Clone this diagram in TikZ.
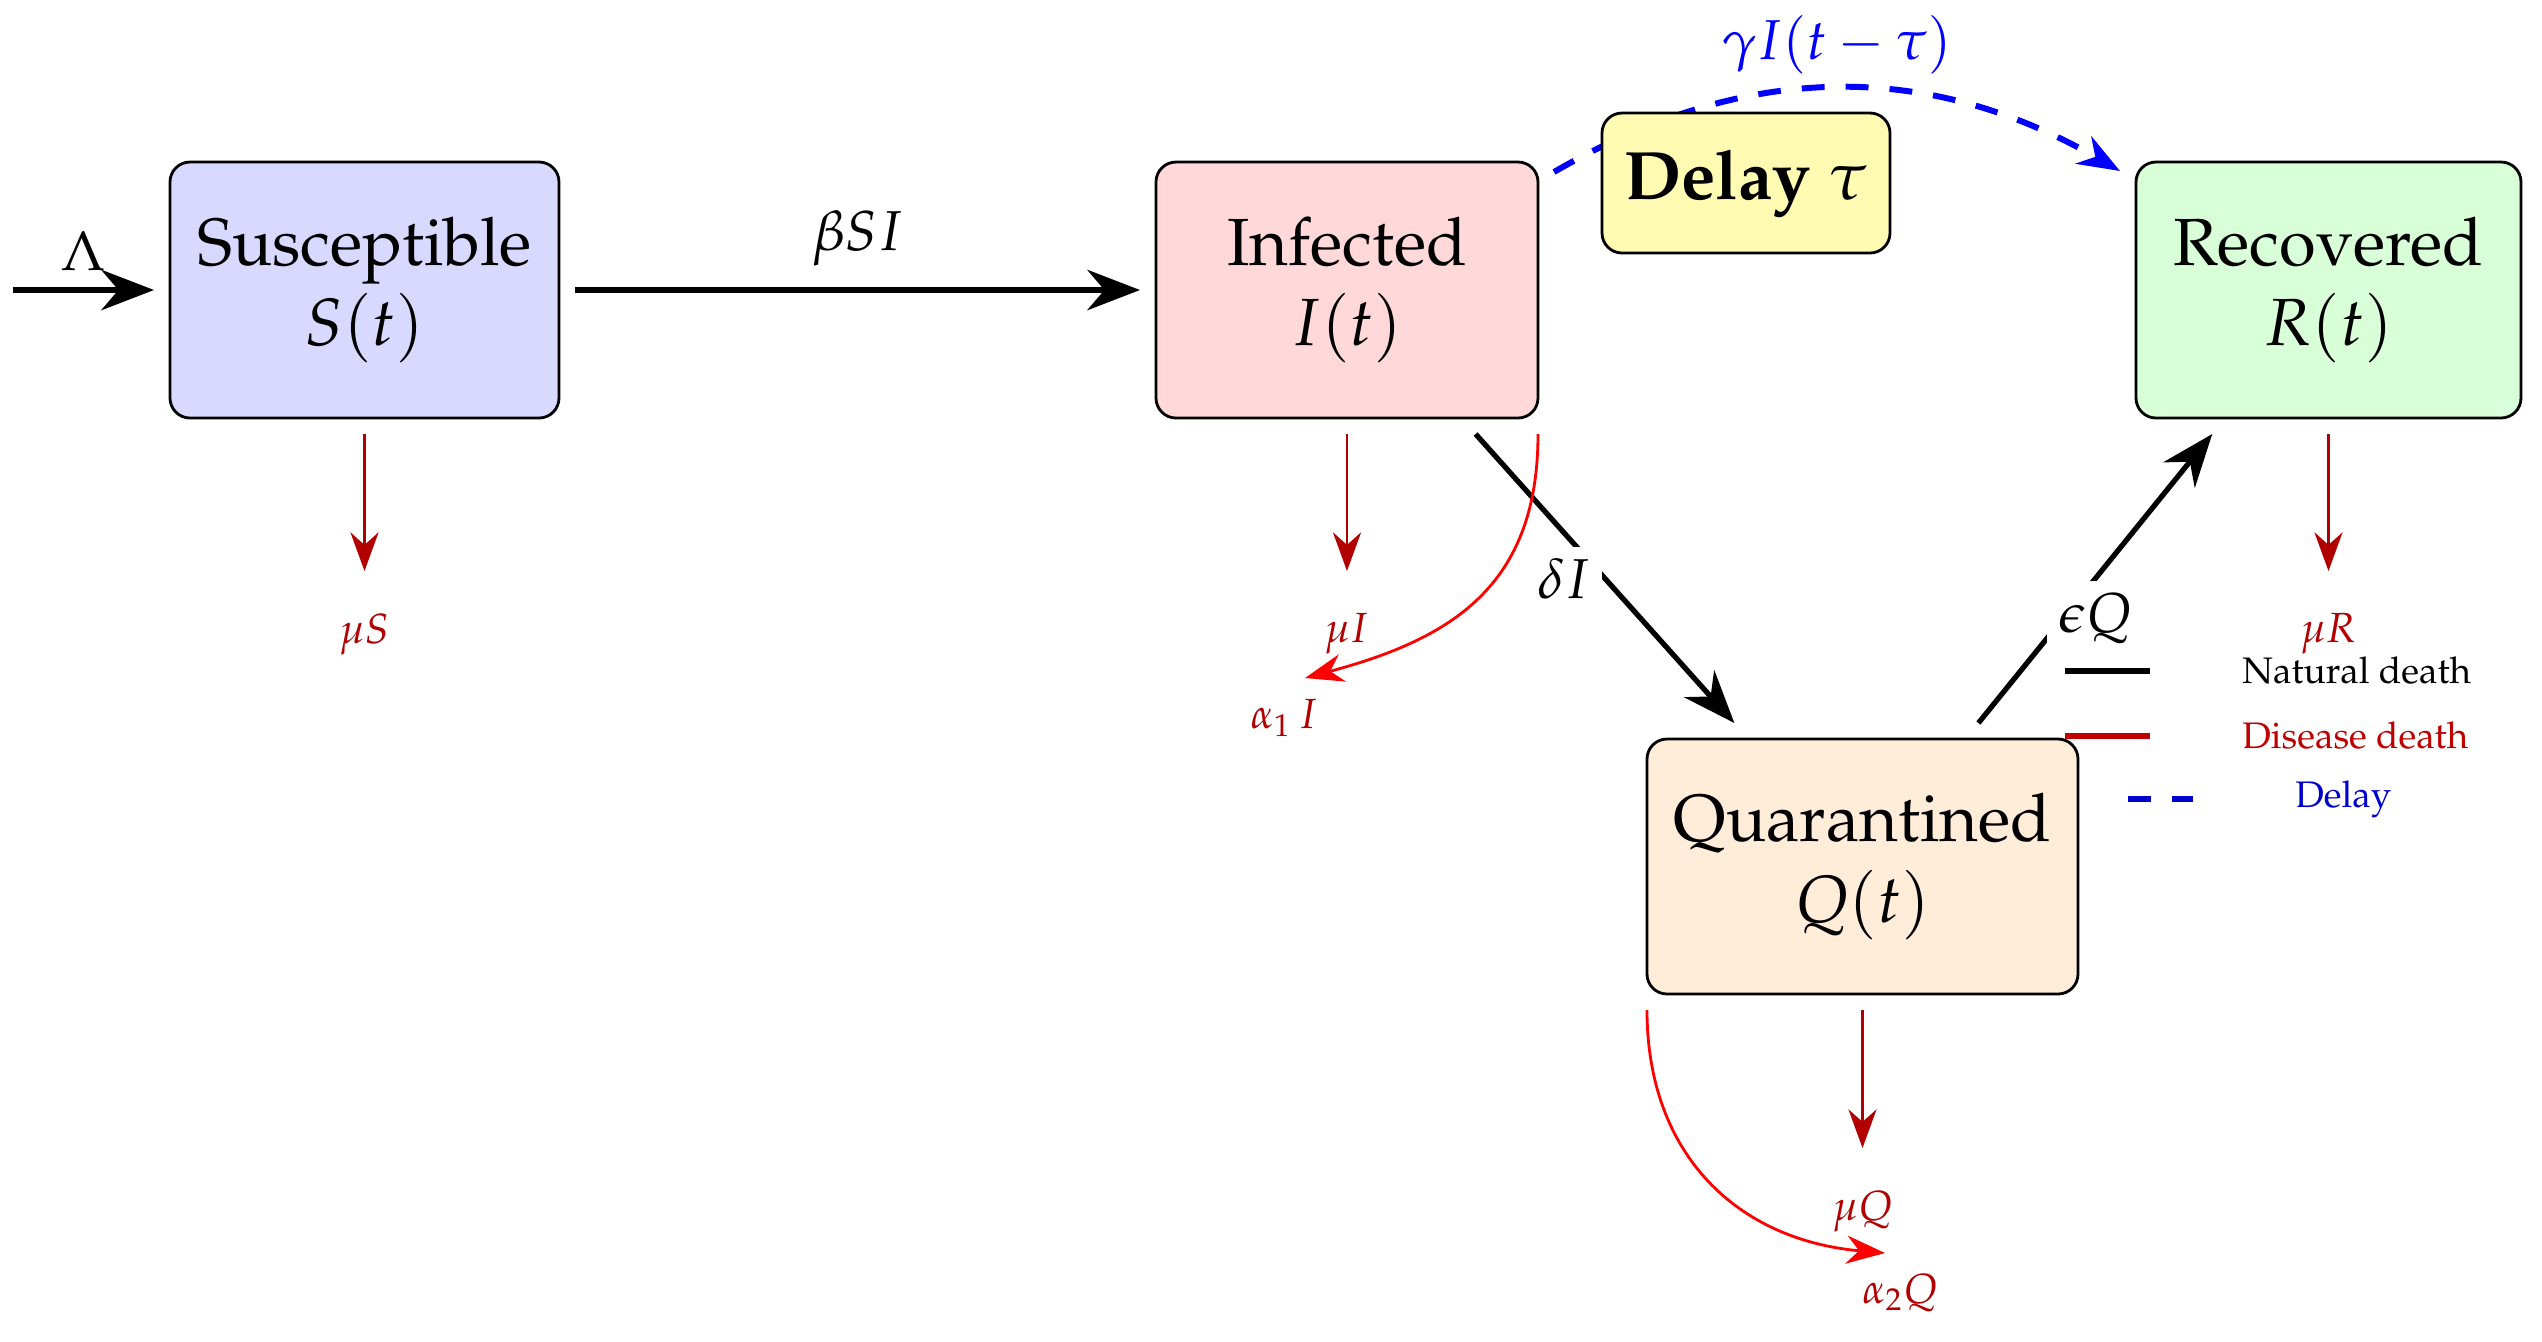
\documentclass[tikz,border=0pt]{standalone}
\usepackage[T1]{fontenc}
\usepackage{mathpazo}
\usepackage{tikz}
\usetikzlibrary{positioning, arrows.meta, calc}

\tikzset{
    compartment/.style={draw, line width=0.8pt, rounded corners=0.2cm, align=center,
        outer sep=0.16cm, minimum height=2.56cm, font=\fontsize{19}{23}\selectfont},
    flow/.style={-{Stealth[length=15pt, width=11.5pt]}, line width=1.5pt},
    natdeath/.style={-{Stealth[length=11pt, width=8pt]}, line width=0.7pt, red!70!black},
    disdeath/.style={-{Stealth[length=11pt, width=8pt]}, line width=0.8pt, red},
    delayflow/.style={-{Stealth[length=12pt, width=9pt]}, line width=1.7pt, blue,
        dash pattern=on 6.5pt off 6pt},
    rate/.style={font=\fontsize{16}{19}\selectfont},
    lossrate/.style={font=\fontsize{12}{14}\selectfont, text=red!70!black},
    legtext/.style={font=\fontsize{10.5}{12.5}\selectfont},
}

\begin{document}
\begin{tikzpicture}
    \useasboundingbox (0,0) rectangle (25.42,-13.41);
    % Compartments
    \node[compartment, fill=blue!15, minimum width=3.89cm] (S) at (3.645,-2.90) {Susceptible\\$S(t)$};
    \node[compartment, fill=red!15, minimum width=3.82cm] (I) at (13.47,-2.90) {Infected\\$I(t)$};
    \node[compartment, fill=green!15, minimum width=3.85cm] (R) at (23.285,-2.90) {Recovered\\$R(t)$};
    \node[compartment, fill=orange!15, minimum width=4.31cm, minimum height=2.55cm] (Q) at (18.625,-8.665) {Quarantined\\$Q(t)$};
    % Recruitment and transitions
    \coordinate (src) at (0.13,-2.90);
    \draw [flow] (src) -- (S.west) node[midway, above=0.5mm, rate] (Lam) {$\Lambda$};
    \draw [flow] (S.east) -- (I.west) node[midway, above=1mm, rate] (bSI) {$\beta S I$};
    \draw [flow] (I) -- (Q) node[midway, left, fill=white, rate] (dI) {$\delta I$};
    \draw [flow] (Q) -- (R) node[midway, below, fill=white, rate] (eQ) {$\epsilon Q$};
    % Delayed recovery
    \draw [delayflow] ($(I.north east)+(0,-0.26)$) to[bend left=30]
        node[midway, above, rate, text=blue] (gI) {$\gamma I(t-\tau)$} ($(R.north west)+(0,-0.25)$);
    \node[draw, line width=0.8pt, rounded corners=0.2cm, fill=yellow!30, minimum width=2.88cm,
        minimum height=1.40cm, font=\fontsize{19.5}{23}\selectfont\bfseries] (D) at (17.46,-1.83) {Delay $\tau$};
    % Natural death
    \coordinate[below=1.37cm of S.south] (Sout);
    \coordinate[below=1.37cm of I.south] (Iout);
    \coordinate[below=1.37cm of R.south] (Rout);
    \coordinate[below=1.38cm of Q.south] (Qout);
    \draw [natdeath] (S.south) -- (Sout); \node[lossrate, below=0.3cm of Sout] (muS) {$\mu S$};
    \draw [natdeath] (I.south) -- (Iout); \node[lossrate, below=0.3cm of Iout] (muI) {$\mu I$};
    \draw [natdeath] (R.south) -- (Rout); \node[lossrate, below=0.3cm of Rout] (muR) {$\mu R$};
    \draw [natdeath] (Q.south) -- (Qout); \node[lossrate, below=0.3cm of Qout] (muQ) {$\mu Q$};
    % Disease death
    \coordinate (Iend) at (13.05,-6.78);
    \coordinate (Qend) at (18.85,-12.53);
    \draw [disdeath] ([xshift=-1.6mm]I.south east) to[out=-90, in=15, looseness=1.15] (Iend);
    \node[lossrate] (aI) at ($(Iend)+(-0.21,-0.40)$) {$\alpha_1\, I$};
    \draw [disdeath] ([xshift=1.6mm]Q.south west) to[out=-90, in=175, looseness=1.1] (Qend);
    \node[lossrate] (aQ) at ($(Qend)+(0.15,-0.40)$) {$\alpha_2 Q$};
    % Legend
    \coordinate (natA) at (20.65,-6.71); \coordinate (natB) at (21.50,-6.71);
    \coordinate (disA) at (20.65,-7.36); \coordinate (disB) at (21.50,-7.36);
    \coordinate (delA) at (21.28,-7.99); \coordinate (delB) at (21.93,-7.99);
    \draw [line width=1.7pt] (natA) -- (natB);
    \draw [line width=1.7pt, red!75!black] (disA) -- (disB);
    \draw [line width=1.7pt, blue!80!black, dash pattern=on 6.5pt off 6pt] (delA) -- (delB);
    \node[legtext, right=0.8cm of natB] (natlab) {Natural death};
    \node[legtext, right=0.8cm of disB, text=red!75!black] (dislab) {Disease death};
    \node[legtext, right=0.9cm of delB, text=blue!80!black] (dellab) {Delay};
\end{tikzpicture}
\end{document}
